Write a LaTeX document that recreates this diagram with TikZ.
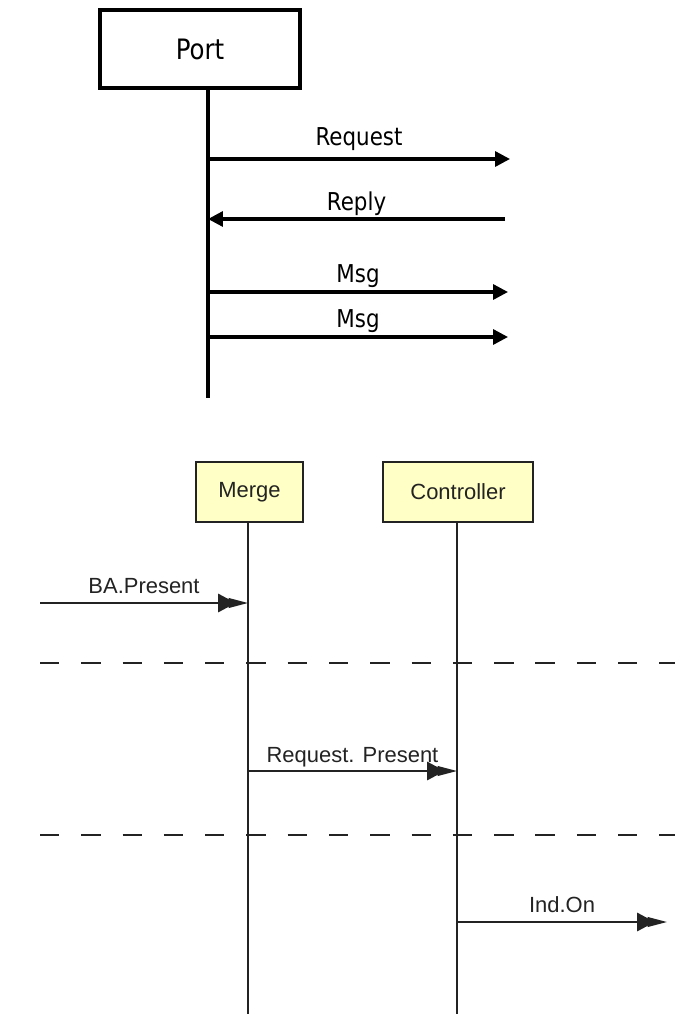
\documentclass[tikz,border=0pt]{standalone}
\usepackage{fontspec}
\setmainfont{Liberation Sans}
\newfontfamily\portfont{DejaVu Sans}[FakeStretch=0.87]
\usepackage{xcolor}
\usetikzlibrary{arrows.meta,positioning}

\definecolor{notepad}{RGB}{255,255,198}
\definecolor{inkgray}{RGB}{35,35,35}

\tikzset{
  portbox/.style={draw, line width=1.9pt, minimum width=4cm, minimum height=1.56cm,
    font=\portfont\fontsize{16}{19}\selectfont},
  thickline/.style={line width=1.9pt},
  topmsg/.style={line width=1.9pt, -{Triangle[length=8.5pt,width=8.5pt]}},
  toplbl/.style={inner sep=0pt, font=\portfont\fontsize{14}{17}\selectfont},
  objbox/.style={draw=inkgray, fill=notepad, line width=1.1pt, minimum width=2.14cm,
    minimum height=1.2cm, text=inkgray, font=\fontsize{12.5}{15}\selectfont},
  thinline/.style={draw=inkgray, line width=1.1pt},
  objmsg/.style={draw=inkgray, line width=0.9pt,
    -{Triangle[length=10pt,width=10.5pt,sep=-4pt]Triangle[length=11pt,width=5.5pt]}},
  objlbl/.style={inner sep=0pt, text=inkgray, font=\fontsize{12.5}{15}\selectfont},
  sepline/.style={draw=inkgray, line width=1.1pt, dash pattern=on 11pt off 12.5pt}
}

\begin{document}
\begin{tikzpicture}[x=0.02cm, y=-0.02cm]
    \useasboundingbox (0,0) rectangle (675,1014);

    % upper chart: one port
    \node[portbox] (port) at (200,49) {Port};
    \coordinate (pEnd) at (208,398);
    \draw[thickline] (port.south -| pEnd) -- (pEnd);

    \coordinate (reqEnd) at (510,159);
    \draw[topmsg] (reqEnd -| pEnd) -- (reqEnd)
      node[toplbl, midway, above=4pt] {Request};
    \coordinate (repStart) at (505,219);
    \draw[topmsg] (repStart) -- (repStart -| pEnd)
      node[toplbl, midway, above=1pt] {Reply};
    \coordinate (msgA) at (508,292);
    \draw[topmsg] (msgA -| pEnd) -- (msgA)
      node[toplbl, midway, above=1.7pt] {Msg};
    \coordinate (msgB) at (508,337);
    \draw[topmsg] (msgB -| pEnd) -- (msgB)
      node[toplbl, midway, above=1.7pt] {Msg};

    % lower chart: merge and controller
    \node[objbox] (merge) at (249.5,492) {Merge};
    \node[objbox, minimum width=3cm] (ctrl) at (458,492) {Controller};
    \coordinate (mEnd) at (248,1014);
    \coordinate (cEnd) at (457,1014);
    \draw[thinline] (merge.south -| mEnd) -- (mEnd);
    \draw[thinline] (ctrl.south -| cEnd) -- (cEnd);

    \coordinate (baStart) at (40,603);
    \draw[objmsg] (baStart) -- (baStart -| mEnd)
      node[objlbl, midway, above=5pt] {BA.Present};

    \coordinate (sepA) at (40,663);
    \coordinate (sepAEnd) at (675,663);
    \draw[sepline] (sepA) -- (sepAEnd);

    \coordinate (rpLevel) at (0,771);
    \draw[objmsg] (rpLevel -| mEnd) -- (rpLevel -| cEnd)
      node[objlbl, midway, above=2pt] {Request. Present};

    \coordinate (sepB) at (40,835);
    \coordinate (sepBEnd) at (675,835);
    \draw[sepline] (sepB) -- (sepBEnd);

    \coordinate (indEnd) at (667,922);
    \draw[objmsg] (indEnd -| cEnd) -- (indEnd)
      node[objlbl, midway, above=5pt] {Ind.On};
\end{tikzpicture}
\end{document}
